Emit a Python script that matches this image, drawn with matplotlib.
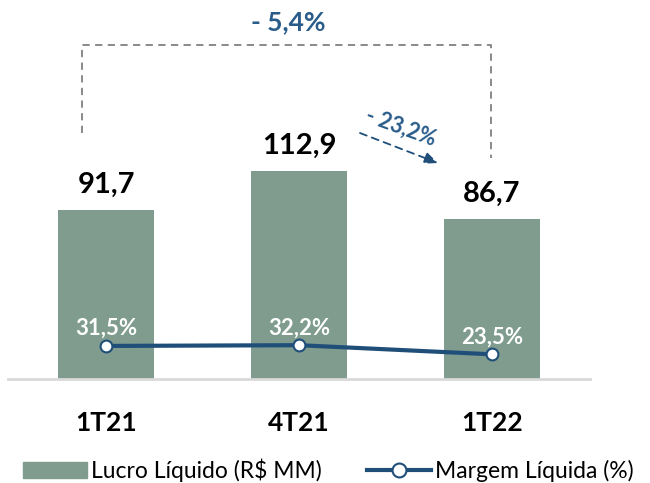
import matplotlib
matplotlib.use('Agg')
import matplotlib.pyplot as plt
from matplotlib.patches import Patch
from matplotlib.lines import Line2D

# dados
categorias = ['1T21', '4T21', '1T22']
lucro = [91.7, 112.9, 86.7]
margem = [31.5, 32.2, 23.5]
var_total = '- 5,4%'
var_tri = '- 23,2%'

cor_barra = '#7F9C8F'
cor_linha = '#1F4E79'
cor_texto = '#2A5C8A'

plt.rcParams['font.family'] = ['Lato', 'DejaVu Sans']

fig = plt.figure(figsize=(6.5, 4.83), dpi=100)
ax = fig.add_axes([8 / 650, 104 / 483, 582 / 650, 379 / 483])
x = list(range(len(categorias)))

ax.bar(x, lucro, width=0.5, color=cor_barra, zorder=2)
ax.set_xlim(-0.508, 2.508)
ax.set_ylim(0, 206)
for s in ['top', 'right', 'left']:
    ax.spines[s].set_visible(False)
ax.spines['bottom'].set_color('#D9D9D9')
ax.spines['bottom'].set_linewidth(2)
ax.set_yticks([])
ax.set_xticks(x)
ax.set_xticklabels(categorias, fontsize=19, fontweight='bold')
ax.tick_params(axis='x', length=0, pad=23)

# rótulos das barras
for xi, v in zip(x, lucro):
    ax.annotate(f'{v:.1f}'.replace('.', ','), (xi, v), xytext=(0, 9), textcoords='offset points',
                ha='center', va='bottom', fontsize=21, fontweight='bold', color='black')

# margem no eixo secundário
ax2 = ax.twinx()
ax2.set_ylim(0, 361)
ax2.axis('off')
ax2.plot(x, margem, color=cor_linha, lw=3, marker='o', ms=8.5, mfc='white', mec=cor_linha, mew=1.5, zorder=3)
for xi, v in zip(x, margem):
    ax2.annotate(f'{v:.1f}%'.replace('.', ','), (xi, v), xytext=(0, 5), textcoords='offset points',
                 ha='center', va='bottom', fontsize=16, fontweight='bold', color='white')

# colchete de variação total
ax.plot([-0.124, -0.124, 1.995, 1.995], [133.7, 181.5, 181.5, 120], color='#808080',
        lw=1.3, ls=(0, (4, 3)), clip_on=False)
ax.text(0.943, 194, var_total, ha='center', va='center', fontsize=19, fontweight='bold',
        color=cor_texto)

# seta variação trimestral
ax.annotate('', xy=(1.72, 117.4), xytext=(1.316, 133.7),
            arrowprops=dict(arrowstyle='-|>,head_length=0.8,head_width=0.35', color=cor_linha,
                            lw=1.3, ls=(0, (4, 3)), shrinkA=0, shrinkB=0))
ax.text(1.53, 137, var_tri, ha='center', va='center', fontsize=15.5, fontweight='bold',
        color=cor_texto, rotation=-20)

# legenda
handles = [Patch(color=cor_barra),
           Line2D([], [], color=cor_linha, lw=3, marker='o', ms=10, mfc='white', mec=cor_linha, mew=1.5)]
fig.legend(handles, ['Lucro Líquido (R$ MM)', 'Margem Líquida (%)'], loc='lower center',
           bbox_to_anchor=(0.505, -0.04), ncol=2, frameon=False, fontsize=16.5,
           handlelength=2.8, handletextpad=0.15, columnspacing=2.0)

fig.savefig('out.png', dpi=100)
